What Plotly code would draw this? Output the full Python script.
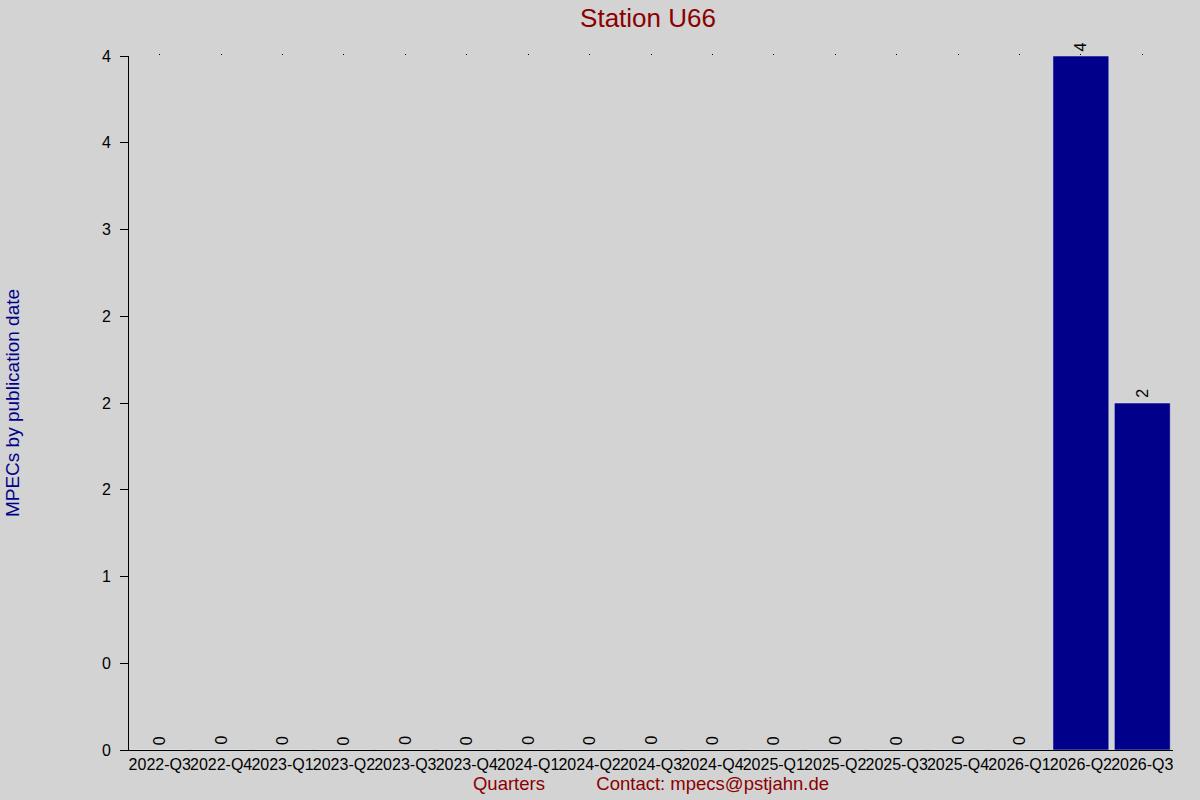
import plotly.graph_objects as go

# quarters and MPEC counts for station U66
quarters = ["2022-Q3", "2022-Q4", "2023-Q1", "2023-Q2", "2023-Q3", "2023-Q4",
            "2024-Q1", "2024-Q2", "2024-Q3", "2024-Q4", "2025-Q1", "2025-Q2",
            "2025-Q3", "2025-Q4", "2026-Q1", "2026-Q2", "2026-Q3"]
counts = [0, 0, 0, 0, 0, 0, 0, 0, 0, 0, 0, 0, 0, 0, 0, 4, 2]

# y ticks every half step, labelled as rounded integers like the original
ytick_vals = [0, 0.5, 1, 1.5, 2, 2.5, 3, 3.5, 4]
ytick_text = ["0", "0", "1", "2", "2", "2", "3", "4", "4"]

bg = "#d3d3d3"
font = "Liberation Sans, Arial, sans-serif"

fig = go.Figure()

fig.add_trace(go.Bar(
    x=quarters,
    y=counts,
    marker=dict(color="#00008b", line=dict(width=0)),
    showlegend=False,
))

# invisible copy on a top axis, only so the small top ticks show
fig.add_trace(go.Bar(
    x=quarters,
    y=counts,
    xaxis="x2",
    marker=dict(color="rgba(0,0,0,0)"),
    hoverinfo="skip",
    showlegend=False,
))

# value labels, rotated, just above each bar
for q, c in zip(quarters, counts):
    fig.add_annotation(x=q, y=c, text=str(c), textangle=-90,
                       showarrow=False, yanchor="bottom", yshift=3,
                       font=dict(family=font, size=16, color="black"))

fig.update_layout(
    width=1200,
    height=800,
    paper_bgcolor=bg,
    plot_bgcolor=bg,
    bargap=0.09,
    margin=dict(l=126, r=27, t=56, b=50),
    title=dict(text="Station U66", x=0.54, xanchor="center", y=0.978, yanchor="middle",
               font=dict(family=font, size=26, color="#8b0000")),
    xaxis=dict(
        type="category",
        showline=True, linecolor="black", linewidth=1,
        ticks="", showgrid=False, zeroline=False,
        tickangle=0,
        tickfont=dict(family=font, size=16, color="black"),
        title=dict(text="Quarters          Contact: mpecs@pstjahn.de", standoff=2,
                   font=dict(family=font, size=18.5, color="#8b0000")),
    ),
    xaxis2=dict(
        type="category",
        overlaying="x", side="top", matches="x",
        showline=False, showgrid=False, zeroline=False,
        ticks="outside", ticklen=1, tickcolor="black",
        showticklabels=False,
    ),
    yaxis=dict(
        range=[0, 4],
        tickvals=ytick_vals, ticktext=ytick_text,
        showline=True, linecolor="black", linewidth=1,
        ticks="outside", ticklen=8, tickcolor="black",
        ticklabelstandoff=6,
        showgrid=False, zeroline=False,
        tickfont=dict(family=font, size=16, color="black"),
        title=dict(text="MPECs by publication date", standoff=77,
                   font=dict(family=font, size=19, color="#00008b")),
    ),
)

fig.write_html("out.html", config={"displayModeBar": False},
               post_script="document.body.style.margin='0';")
